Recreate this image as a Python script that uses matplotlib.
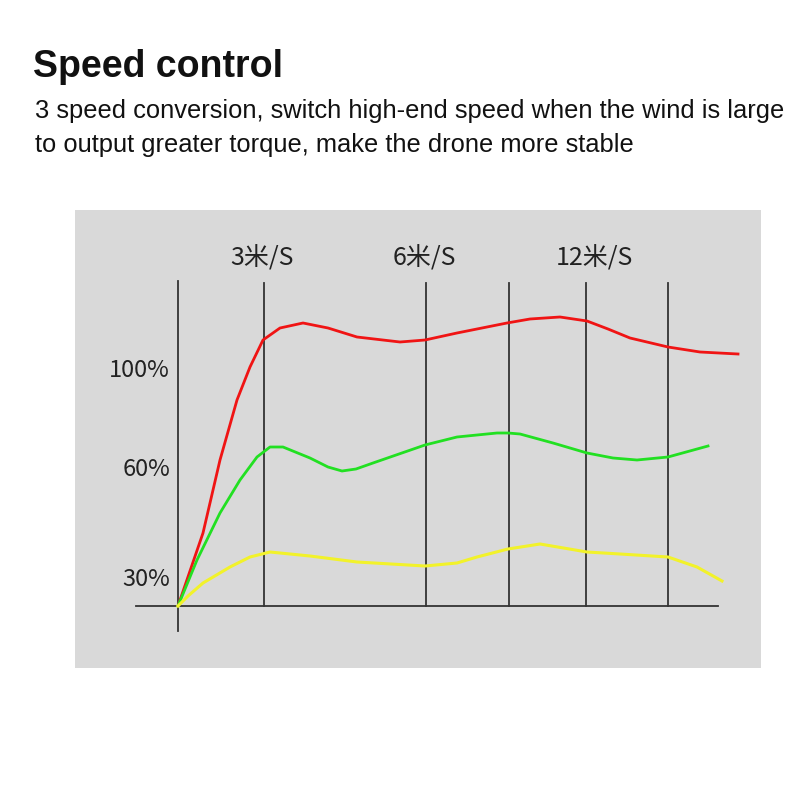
import numpy as np
import matplotlib.pyplot as plt

plt.rcParams['font.family'] = ['Liberation Sans', 'DejaVu Sans']

# curves: x and y measured from the chart origin (arbitrary units)
red_x = [0, 25, 42, 59, 72, 85, 102, 125, 150, 179, 222, 247, 279, 329, 352, 382, 409, 430, 452, 490, 522, 560]
red_y = [0, 73, 146, 206, 239, 266, 278, 283, 278, 269, 264, 266, 273, 283, 287, 289, 285, 277, 268, 259, 254, 252]
green_x = [0, 19, 42, 62, 79, 92, 105, 132, 150, 164, 178, 195, 247, 279, 319, 330, 342, 375, 409, 435, 459, 490, 530]
green_y = [0, 46, 93, 126, 149, 159, 159, 148, 139, 135, 137, 143, 161, 169, 173, 173, 172, 163, 153, 148, 146, 149, 160]
yellow_x = [0, 10, 25, 52, 72, 92, 132, 179, 247, 279, 299, 330, 362, 409, 442, 490, 519, 544]
yellow_y = [0, 10, 23, 39, 49, 54, 50, 44, 40, 43, 49, 57, 62, 54, 52, 49, 39, 25]

grid_x = [0, 86, 248, 331, 408, 490]
speed_labels = ['3米/S', '6米/S', '12米/S']
speed_x = [84, 246, 416]
pct_labels = ['100%', '60%', '30%']
pct_y = [229, 130, 20]

fig = plt.figure(figsize=(8, 8), dpi=100)
fig.patch.set_facecolor('white')

fig.text(33 / 800, 1 - 77 / 800, 'Speed control', fontsize=27, fontweight='bold',
         color='#111111', ha='left', va='baseline')
fig.text(35 / 800, 1 - 118 / 800,
         '3 speed conversion, switch high-end speed when the wind is large',
         fontsize=18.4, color='#111111', ha='left', va='baseline')
fig.text(35 / 800, 1 - 152 / 800,
         'to output greater torque, make the drone more stable',
         fontsize=18.4, color='#111111', ha='left', va='baseline')

# gray panel from x=75..761, y=210..668 px, origin at (178, 606)
ax = fig.add_axes([75 / 800, 1 - 668 / 800, 686 / 800, 458 / 800])
ax.set_facecolor('#d9d9d9')
ax.set_xlim(-103, 583)
ax.set_ylim(-62, 396)
for s in ax.spines.values():
    s.set_visible(False)
ax.set_xticks([])
ax.set_yticks([])

lc = '#333333'
ax.plot([0, 0], [-25, 325], color=lc, lw=1.3)
for gx in grid_x[1:]:
    ax.plot([gx, gx], [0, 323], color=lc, lw=1.3)
ax.plot([-42, 540], [0, 0], color=lc, lw=1.3)

ax.plot(red_x, red_y, color='#f01414', lw=2, solid_joinstyle='round')
ax.plot(green_x, green_y, color='#22e022', lw=2, solid_joinstyle='round')
ax.plot(yellow_x, yellow_y, color='#f2f22a', lw=2.2, solid_joinstyle='round')

cjk = ['Noto Sans CJK SC', 'DejaVu Sans']
for lab, x in zip(speed_labels, speed_x):
    ax.text(x, 340, lab, fontsize=18, family=cjk, color='#222222',
            ha='center', va='baseline')
for lab, y in zip(pct_labels, pct_y):
    ax.text(-8, y, lab, fontsize=17, family=cjk, color='#222222',
            ha='right', va='baseline')

fig.savefig('out.png', dpi=100)
